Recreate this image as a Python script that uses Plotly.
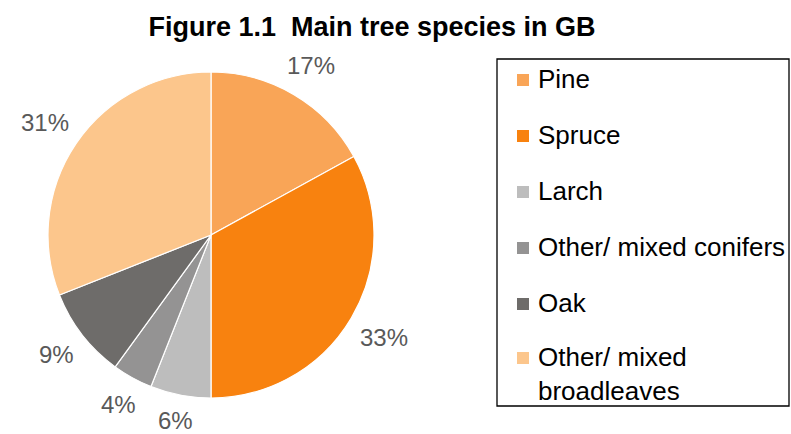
import math
import plotly.graph_objects as go

species = ["Pine", "Spruce", "Larch", "Other/ mixed conifers", "Oak", "Other/ mixed<br>broadleaves"]
shares = [17, 33, 6, 4, 9, 31]
colors = ["#F9A557", "#F8820F", "#BDBDBD", "#949393", "#6E6C6A", "#FCC68C"]

W, H = 791, 434
def px(x):
    return x / W
def py(y):
    return 1 - y / H

CX, CY, R = 211, 235, 163
FONT = "Liberation Sans, Arial"
LBL = 24

fig = go.Figure(go.Pie(
    labels=species, values=shares, sort=False, direction="clockwise", rotation=0,
    marker=dict(colors=colors, line=dict(color="white", width=1.2)),
    textinfo="none",
    domain=dict(x=[px(CX - R), px(CX + R)], y=[py(CY + R), py(CY - R)]),
    showlegend=False, hoverinfo="label+percent",
))

annotations = []
# percentage labels placed just outside each slice ("outside end"), from cumulative angles
total = sum(shares)
cum = 0
for v in shares:
    theta = math.radians((cum + v / 2) / total * 360)
    cum += v
    txt = f"{v}%"
    w = LBL * (0.556 * (len(txt) - 1) + 0.889)
    h = LBL
    sx, sy = math.sin(theta), -math.cos(theta)
    d = R + 11 + (w / 2) * abs(sx) + (h / 2) * abs(sy)
    annotations.append(dict(xref="paper", yref="paper", x=px(CX + d * sx), y=py(CY + d * sy),
                            xanchor="center", yanchor="middle", text=txt, showarrow=False,
                            font=dict(family=FONT, size=LBL, color="#595959")))

shapes = [dict(type="rect", xref="paper", yref="paper",
               x0=px(497), x1=px(789), y0=py(406), y1=py(59),
               line=dict(color="black", width=1.3), fillcolor="rgba(0,0,0,0)")]
ys = [80, 136, 192, 248, 304, 358]
for lab, col, yc in zip(species, colors, ys):
    shapes.append(dict(type="rect", xref="paper", yref="paper",
                       x0=px(517), x1=px(529), y0=py(yc + 6), y1=py(yc - 6),
                       line=dict(width=0), fillcolor=col))
    annotations.append(dict(xref="paper", yref="paper", x=px(536), y=py(yc - 18),
                            xanchor="left", yanchor="top", text=lab, showarrow=False, align="left",
                            font=dict(family=FONT, size=26, color="black")))

fig.update_layout(
    width=W, height=H, margin=dict(l=0, r=0, t=0, b=0),
    paper_bgcolor="white", plot_bgcolor="white",
    title=dict(text="<b>Figure 1.1\u00a0\u00a0Main tree species in GB</b>", x=px(372), xanchor="center",
               y=py(27), yanchor="middle",
               font=dict(family=FONT, size=27, color="black")),
    shapes=shapes, annotations=annotations,
)
fig.write_html("out.html", config={"displayModeBar": False},
               post_script="document.body.style.margin='0';document.body.style.overflow='hidden';")
